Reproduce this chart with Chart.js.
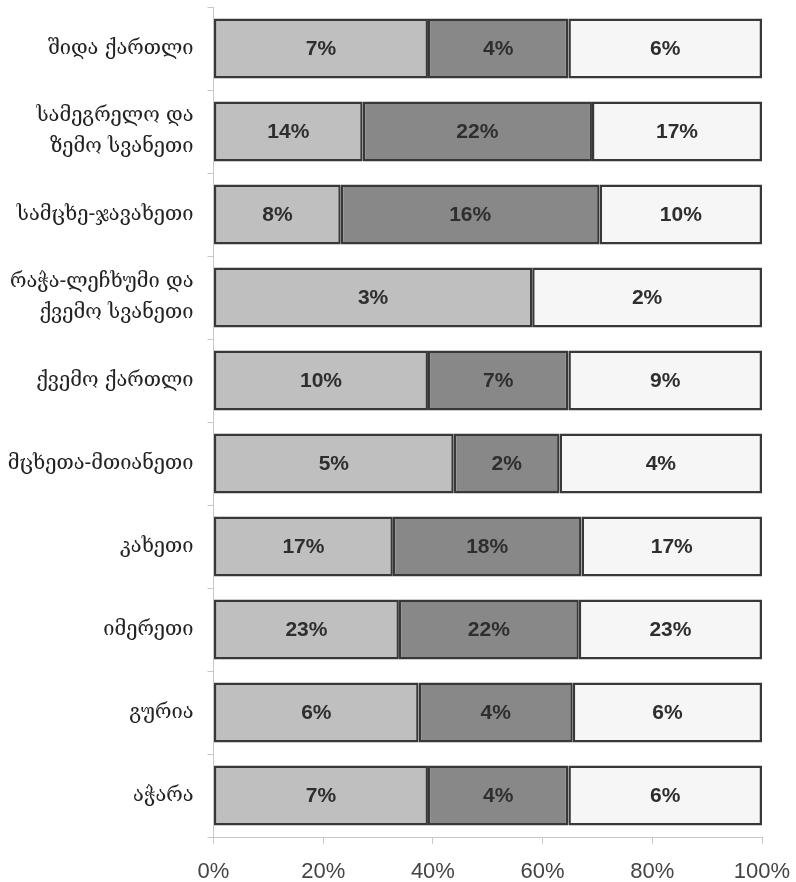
<!DOCTYPE html>
<html>
<head>
<meta charset="utf-8">
<script src="https://cdn.jsdelivr.net/npm/chart.js@4.4.1/dist/chart.umd.min.js"></script>
<style>
  html, body { margin: 0; padding: 0; background: #fff; }
  #wrap { width: 796px; height: 882px; position: relative; }
</style>
</head>
<body>
<div id="wrap"><canvas id="chart"></canvas></div>
<script>
const regions = [
  'შიდა ქართლი',
  ['სამეგრელო და', 'ზემო სვანეთი'],
  'სამცხე-ჯავახეთი',
  ['რაჭა-ლეჩხუმი და', 'ქვემო სვანეთი'],
  'ქვემო ქართლი',
  'მცხეთა-მთიანეთი',
  'კახეთი',
  'იმერეთი',
  'გურია',
  'აჭარა'
];

// bar lengths (share of each row, %)
const shareA = [39.1, 27.2, 23.2, 58.1, 39.1, 43.8, 32.7, 33.8, 37.4, 39.1];
const shareB = [25.6, 41.8, 47.2, 0, 25.6, 19.3, 34.4, 32.8, 28.1, 25.6];
const shareC = [35.3, 31.0, 29.6, 41.9, 35.3, 36.9, 32.9, 33.4, 34.5, 35.3];

// printed labels
const labelA = [7, 14, 8, 3, 10, 5, 17, 23, 6, 7];
const labelB = [4, 22, 16, null, 7, 2, 18, 22, 4, 4];
const labelC = [6, 17, 10, 2, 9, 4, 17, 23, 6, 6];

const xTicks = [0, 20, 40, 60, 80, 100];

const barLabels = {
  id: 'barLabels',
  afterDatasetsDraw(chart) {
    const ctx = chart.ctx;
    ctx.save();
    ctx.font = 'bold 21px "Liberation Sans", Arial, sans-serif';
    ctx.fillStyle = '#2e2e2e';
    ctx.textAlign = 'center';
    ctx.textBaseline = 'middle';
    chart.data.datasets.forEach((ds, di) => {
      const meta = chart.getDatasetMeta(di);
      meta.data.forEach((bar, i) => {
        const v = ds.printed[i];
        if (v == null) return;
        const p = bar.getCenterPoint();
        ctx.fillText(v + '%', p.x, p.y + 1);
      });
    });
    ctx.restore();
  }
};

const common = {
  borderColor: '#383838',
  borderWidth: 2.5,
  borderSkipped: false,
  barPercentage: 0.72,
  categoryPercentage: 1
};

new Chart(document.getElementById('chart'), {
  type: 'bar',
  data: {
    labels: regions,
    datasets: [
      { ...common, data: shareA, printed: labelA, backgroundColor: '#bfbfbf' },
      { ...common, data: shareB, printed: labelB, backgroundColor: '#888888' },
      { ...common, data: shareC, printed: labelC, backgroundColor: '#f6f6f6' }
    ]
  },
  options: {
    indexAxis: 'y',
    responsive: true,
    maintainAspectRatio: false,
    animation: false,
    layout: { padding: { top: 7, right: 34, left: 0, bottom: 0 } },
    plugins: { legend: { display: false }, tooltip: { enabled: false } },
    scales: {
      x: {
        stacked: true,
        min: 0,
        max: 100,
        afterBuildTicks: (s) => { s.ticks = xTicks.map(v => ({ value: v })); },
        grid: { drawOnChartArea: false, drawTicks: true, tickLength: 7, color: '#c8c8c8' },
        border: { display: true, color: '#c8c8c8', width: 1 },
        ticks: {
          callback: (v) => v + '%',
          color: '#444',
          padding: 15,
          maxRotation: 0,
          font: { family: '"Liberation Sans", Arial, sans-serif', size: 22 }
        },
        afterFit: (s) => { s.height = 45; s.paddingLeft = 0; s.paddingRight = 0; }
      },
      y: {
        stacked: true,
        grid: { drawOnChartArea: false, drawTicks: true, tickLength: 6, color: '#c8c8c8', offset: true },
        border: { display: true, color: '#c8c8c8', width: 1 },
        ticks: {
          color: '#222',
          padding: 14,
          font: { family: '"DejaVu Serif", "DejaVu Sans", serif', size: 20, lineHeight: 1.55 }
        },
        afterFit: (s) => { s.width = 213.5; s.paddingTop = 0; s.paddingBottom = 0; }
      }
    }
  },
  plugins: [barLabels]
});
</script>
</body>
</html>
